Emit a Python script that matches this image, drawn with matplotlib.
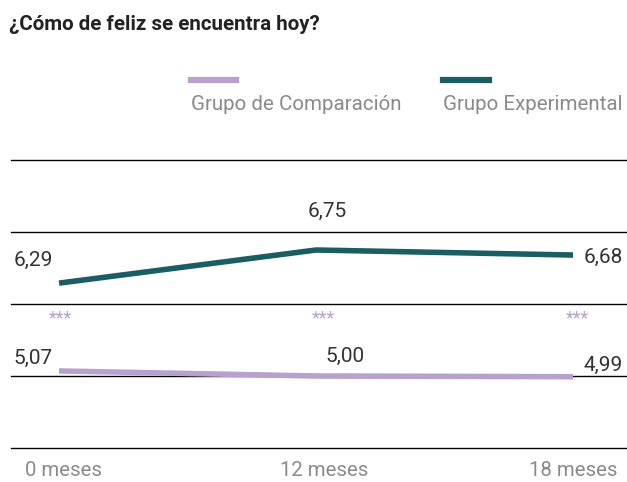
import matplotlib
matplotlib.use("Agg")
import matplotlib.pyplot as plt
from matplotlib.lines import Line2D

plt.rcParams['font.family'] = ['Roboto', 'DejaVu Sans']

# data
periods = ['0 meses', '12 meses', '18 meses']
comparacion = [5.07, 5.00, 4.99]
experimental = [6.29, 6.75, 6.68]
comp_labels = ['5,07', '5,00', '4,99']
exp_labels = ['6,29', '6,75', '6,68']
signif = ['***', '***', '***']

teal = '#1a5e63'
lila = '#b7a1cd'
grey = '#8a8a8a'
dark = '#333333'

fig = plt.figure(figsize=(6.27, 4.82), dpi=100)
W, H = 627, 482
ax = fig.add_axes([11 / W, (H - 448) / H, (627 - 11) / W, (448 - 160) / H])

x = list(range(len(periods)))
ax.plot(x, comparacion, color=lila, lw=4, solid_capstyle='butt', zorder=3)
ax.plot(x, experimental, color=teal, lw=4, solid_capstyle='butt', zorder=3)

ax.set_xlim(-0.187, 2.21)
ax.set_ylim(4, 8)
for yv in [4, 5, 6, 7, 8]:
    ax.axhline(yv, color='black', lw=1, zorder=2, clip_on=False)

for s in ax.spines.values():
    s.set_visible(False)
ax.set_yticks([])
ax.set_xticks([])

# category labels under the axis, nudged like the original
tick_dx = [4, 8, 0]
for i in x:
    ax.annotate(periods[i], (i, 4), xytext=(tick_dx[i], -23),
                textcoords='offset pixels', ha='center', va='center',
                fontsize=14.7, color=grey, annotation_clip=False)

# value labels (offsets in pixels)
exp_off = [(-26, 23), (11, 39), (30, -2)]
comp_off = [(-26, 13), (29, 20), (30, 11)]
for i in x:
    ax.annotate(exp_labels[i], (i, experimental[i]), xytext=exp_off[i],
                textcoords='offset pixels', ha='center', va='center',
                fontsize=15, color=dark)
    ax.annotate(comp_labels[i], (i, comparacion[i]), xytext=comp_off[i],
                textcoords='offset pixels', ha='center', va='center',
                fontsize=15, color=dark)

star_dx = [1, 7, 4]
for i in x:
    ax.annotate(signif[i], (i, 6), xytext=(star_dx[i], -14),
                textcoords='offset pixels', ha='center', va='center',
                fontsize=13, color=lila)

# title
fig.text(9 / W, 1 - 24 / H, '¿Cómo de feliz se encuentra hoy?', fontsize=14.8,
         fontweight='bold', color='#222222', ha='left', va='center')

# legend drawn by hand
fig.add_artist(Line2D([191 / W, 236 / W], [1 - 80 / H, 1 - 80 / H], color=lila, lw=4.5))
fig.add_artist(Line2D([443 / W, 489 / W], [1 - 80 / H, 1 - 80 / H], color=teal, lw=4.5))
fig.text(191 / W, 1 - 105 / H, 'Grupo de Comparación', fontsize=14.8, color=grey,
         ha='left', va='center')
fig.text(443 / W, 1 - 105 / H, 'Grupo Experimental', fontsize=14.8, color=grey,
         ha='left', va='center')

fig.savefig('out.png', dpi=100)
